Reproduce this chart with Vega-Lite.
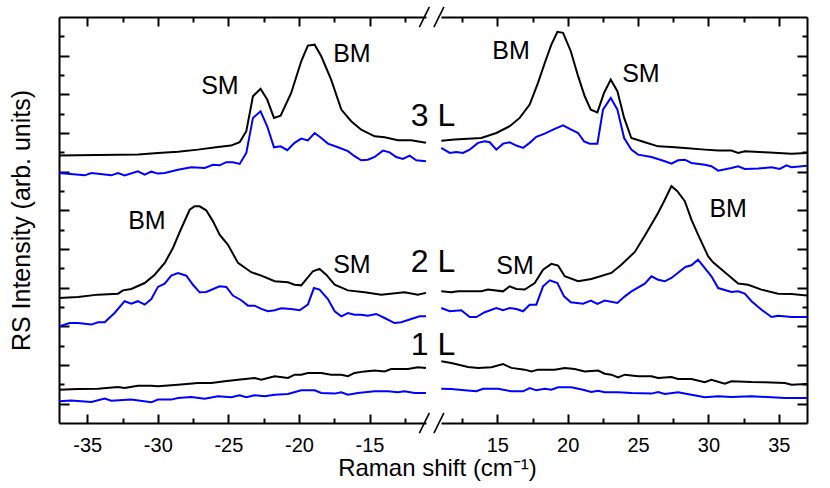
{
  "$schema": "https://vega.github.io/schema/vega-lite/v6.json",
  "background": "white",
  "padding": {"left": 9, "top": 3, "right": 5, "bottom": 5},
  "bounds": "flush",
  "spacing": 15,
  "config": {
    "view": {"stroke": null},
    "font": "Liberation Sans",
    "axis": {
      "grid": false,
      "domainColor": "#000000",
      "domainWidth": 2,
      "tickColor": "#000000",
      "tickWidth": 2,
      "labelFont": "Liberation Sans",
      "labelFontSize": 20,
      "labelColor": "#000000",
      "titleFont": "Liberation Sans",
      "titleFontSize": 24,
      "titleFontWeight": "normal",
      "titleColor": "#000000"
    }
  },
  "datasets": {
    "L": [
      {"s":"3k","x":-37,"y":13.83},{"s":"3k","x":-35.65,"y":13.85},{"s":"3k","x":-34.24,"y":13.86},{"s":"3k","x":-32.82,"y":13.88},{"s":"3k","x":-31.4,"y":13.89},{"s":"3k","x":-29.99,"y":13.97},{"s":"3k","x":-28.57,"y":14.03},{"s":"3k","x":-27.16,"y":14.14},{"s":"3k","x":-25.74,"y":14.28},{"s":"3k","x":-24.82,"y":14.35},{"s":"3k","x":-24.2,"y":14.52},{"s":"3k","x":-23.73,"y":15.09},{"s":"3k","x":-23.26,"y":16.9},{"s":"3k","x":-22.72,"y":17.29},{"s":"3k","x":-22.25,"y":16.73},{"s":"3k","x":-21.77,"y":15.78},{"s":"3k","x":-21.3,"y":15.9},{"s":"3k","x":-20.55,"y":17.07},{"s":"3k","x":-19.84,"y":18.71},{"s":"3k","x":-19.37,"y":19.52},{"s":"3k","x":-18.89,"y":19.57},{"s":"3k","x":-18.42,"y":18.97},{"s":"3k","x":-17.72,"y":17.76},{"s":"3k","x":-17.0,"y":16.21},{"s":"3k","x":-16.3,"y":15.61},{"s":"3k","x":-15.59,"y":15.17},{"s":"3k","x":-14.64,"y":14.83},{"s":"3k","x":-13.93,"y":14.78},{"s":"3k","x":-12.99,"y":14.62},{"s":"3k","x":-12.05,"y":14.62},{"s":"3k","x":-11.0,"y":14.49},
      {"s":"3b","x":-37,"y":12.93},{"s":"3b","x":-35.18,"y":12.81},{"s":"3b","x":-34.71,"y":12.93},{"s":"3b","x":-33.3,"y":12.81},{"s":"3b","x":-32.82,"y":12.93},{"s":"3b","x":-32.35,"y":12.81},{"s":"3b","x":-31.41,"y":13.02},{"s":"3b","x":-30.93,"y":12.85},{"s":"3b","x":-30.46,"y":13.0},{"s":"3b","x":-29.99,"y":12.9},{"s":"3b","x":-29.51,"y":12.93},{"s":"3b","x":-28.57,"y":13.1},{"s":"3b","x":-27.63,"y":13.23},{"s":"3b","x":-26.68,"y":13.19},{"s":"3b","x":-26.09,"y":13.36},{"s":"3b","x":-25.62,"y":13.33},{"s":"3b","x":-25.15,"y":13.49},{"s":"3b","x":-24.68,"y":13.49},{"s":"3b","x":-24.2,"y":13.4},{"s":"3b","x":-23.73,"y":13.97},{"s":"3b","x":-23.26,"y":15.78},{"s":"3b","x":-22.72,"y":16.12},{"s":"3b","x":-22.25,"y":15.35},{"s":"3b","x":-21.77,"y":14.26},{"s":"3b","x":-21.3,"y":14.31},{"s":"3b","x":-20.83,"y":14.11},{"s":"3b","x":-20.31,"y":14.49},{"s":"3b","x":-19.84,"y":14.71},{"s":"3b","x":-19.37,"y":14.62},{"s":"3b","x":-18.89,"y":15.0},{"s":"3b","x":-18.42,"y":14.74},{"s":"3b","x":-17.95,"y":14.45},{"s":"3b","x":-17.24,"y":14.26},{"s":"3b","x":-16.53,"y":14.06},{"s":"3b","x":-16.06,"y":13.8},{"s":"3b","x":-15.59,"y":13.59},{"s":"3b","x":-15.12,"y":13.62},{"s":"3b","x":-14.64,"y":13.76},{"s":"3b","x":-14.05,"y":14.09},{"s":"3b","x":-13.58,"y":14.0},{"s":"3b","x":-13.11,"y":13.76},{"s":"3b","x":-12.64,"y":13.66},{"s":"3b","x":-12.16,"y":13.83},{"s":"3b","x":-11.69,"y":13.59},{"s":"3b","x":-11.0,"y":13.54},
      {"s":"2k","x":-37,"y":6.47},{"s":"2k","x":-35.65,"y":6.52},{"s":"2k","x":-34.24,"y":6.64},{"s":"2k","x":-32.82,"y":6.69},{"s":"2k","x":-32.47,"y":6.86},{"s":"2k","x":-31.88,"y":6.93},{"s":"2k","x":-30.93,"y":7.24},{"s":"2k","x":-30.22,"y":7.67},{"s":"2k","x":-29.51,"y":8.28},{"s":"2k","x":-28.93,"y":9.05},{"s":"2k","x":-28.45,"y":9.88},{"s":"2k","x":-27.74,"y":11.03},{"s":"2k","x":-27.39,"y":11.21},{"s":"2k","x":-27.04,"y":11.21},{"s":"2k","x":-26.57,"y":11.0},{"s":"2k","x":-26.09,"y":10.43},{"s":"2k","x":-25.62,"y":9.74},{"s":"2k","x":-25.03,"y":9.22},{"s":"2k","x":-24.32,"y":8.28},{"s":"2k","x":-23.38,"y":7.8},{"s":"2k","x":-22.67,"y":7.62},{"s":"2k","x":-21.72,"y":7.33},{"s":"2k","x":-20.78,"y":7.28},{"s":"2k","x":-20.31,"y":7.15},{"s":"2k","x":-19.84,"y":7.12},{"s":"2k","x":-19.01,"y":7.85},{"s":"2k","x":-18.54,"y":7.97},{"s":"2k","x":-18.07,"y":7.67},{"s":"2k","x":-17.47,"y":7.15},{"s":"2k","x":-16.53,"y":6.86},{"s":"2k","x":-15.35,"y":6.76},{"s":"2k","x":-14.17,"y":6.64},{"s":"2k","x":-12.52,"y":6.76},{"s":"2k","x":-11.58,"y":6.64},{"s":"2k","x":-11.0,"y":6.73},
      {"s":"2b","x":-37,"y":5.0},{"s":"2b","x":-36.24,"y":5.17},{"s":"2b","x":-35.65,"y":5.17},{"s":"2b","x":-34.71,"y":5.09},{"s":"2b","x":-34.24,"y":5.21},{"s":"2b","x":-33.76,"y":5.21},{"s":"2b","x":-33.06,"y":5.69},{"s":"2b","x":-32.35,"y":6.3},{"s":"2b","x":-31.88,"y":6.17},{"s":"2b","x":-31.41,"y":6.3},{"s":"2b","x":-30.93,"y":6.12},{"s":"2b","x":-30.46,"y":6.41},{"s":"2b","x":-29.99,"y":7.04},{"s":"2b","x":-29.51,"y":7.21},{"s":"2b","x":-29.05,"y":7.62},{"s":"2b","x":-28.57,"y":7.76},{"s":"2b","x":-27.98,"y":7.62},{"s":"2b","x":-27.51,"y":7.15},{"s":"2b","x":-27.04,"y":6.76},{"s":"2b","x":-26.57,"y":6.78},{"s":"2b","x":-25.62,"y":7.07},{"s":"2b","x":-25.15,"y":7.04},{"s":"2b","x":-24.68,"y":6.59},{"s":"2b","x":-24.09,"y":6.35},{"s":"2b","x":-23.61,"y":6.07},{"s":"2b","x":-23.14,"y":6.07},{"s":"2b","x":-22.67,"y":5.9},{"s":"2b","x":-22.2,"y":5.78},{"s":"2b","x":-21.72,"y":5.83},{"s":"2b","x":-21.26,"y":5.93},{"s":"2b","x":-20.55,"y":5.9},{"s":"2b","x":-19.95,"y":5.83},{"s":"2b","x":-19.37,"y":6.12},{"s":"2b","x":-18.94,"y":6.98},{"s":"2b","x":-18.54,"y":6.9},{"s":"2b","x":-17.95,"y":6.41},{"s":"2b","x":-17.47,"y":5.78},{"s":"2b","x":-17.0,"y":5.52},{"s":"2b","x":-16.53,"y":5.69},{"s":"2b","x":-16.06,"y":5.6},{"s":"2b","x":-15.59,"y":5.6},{"s":"2b","x":-15.12,"y":5.55},{"s":"2b","x":-14.53,"y":5.64},{"s":"2b","x":-13.93,"y":5.43},{"s":"2b","x":-13.23,"y":5.17},{"s":"2b","x":-12.76,"y":5.21},{"s":"2b","x":-12.05,"y":5.38},{"s":"2b","x":-11.45,"y":5.52},{"s":"2b","x":-11.0,"y":5.52},
      {"s":"1k","x":-37,"y":1.72},{"s":"1k","x":-35.65,"y":1.76},{"s":"1k","x":-34.24,"y":1.77},{"s":"1k","x":-32.82,"y":1.86},{"s":"1k","x":-32.35,"y":1.81},{"s":"1k","x":-31.41,"y":1.93},{"s":"1k","x":-30.46,"y":1.93},{"s":"1k","x":-29.99,"y":1.9},{"s":"1k","x":-28.57,"y":1.98},{"s":"1k","x":-27.16,"y":2.07},{"s":"1k","x":-26.21,"y":2.07},{"s":"1k","x":-25.26,"y":2.16},{"s":"1k","x":-24.32,"y":2.24},{"s":"1k","x":-23.14,"y":2.33},{"s":"1k","x":-22.67,"y":2.24},{"s":"1k","x":-21.72,"y":2.42},{"s":"1k","x":-20.78,"y":2.33},{"s":"1k","x":-20.31,"y":2.5},{"s":"1k","x":-19.84,"y":2.5},{"s":"1k","x":-19.37,"y":2.59},{"s":"1k","x":-18.42,"y":2.59},{"s":"1k","x":-17.72,"y":2.5},{"s":"1k","x":-17.0,"y":2.5},{"s":"1k","x":-16.53,"y":2.42},{"s":"1k","x":-16.06,"y":2.59},{"s":"1k","x":-15.35,"y":2.67},{"s":"1k","x":-14.64,"y":2.71},{"s":"1k","x":-13.93,"y":2.67},{"s":"1k","x":-13.47,"y":2.79},{"s":"1k","x":-12.28,"y":2.79},{"s":"1k","x":-11.58,"y":2.88},{"s":"1k","x":-11.0,"y":2.85},
      {"s":"1b","x":-37,"y":1.12},{"s":"1b","x":-36.13,"y":1.17},{"s":"1b","x":-34.71,"y":1.09},{"s":"1b","x":-33.76,"y":1.26},{"s":"1b","x":-33.3,"y":1.15},{"s":"1b","x":-31.88,"y":1.21},{"s":"1b","x":-30.46,"y":1.07},{"s":"1b","x":-29.99,"y":1.21},{"s":"1b","x":-29.05,"y":1.21},{"s":"1b","x":-28.57,"y":1.29},{"s":"1b","x":-27.63,"y":1.35},{"s":"1b","x":-26.68,"y":1.26},{"s":"1b","x":-25.74,"y":1.38},{"s":"1b","x":-24.8,"y":1.33},{"s":"1b","x":-24.2,"y":1.43},{"s":"1b","x":-23.73,"y":1.33},{"s":"1b","x":-23.14,"y":1.43},{"s":"1b","x":-22.43,"y":1.38},{"s":"1b","x":-21.72,"y":1.46},{"s":"1b","x":-20.78,"y":1.5},{"s":"1b","x":-19.84,"y":1.69},{"s":"1b","x":-18.89,"y":1.69},{"s":"1b","x":-18.42,"y":1.55},{"s":"1b","x":-17.47,"y":1.52},{"s":"1b","x":-17.0,"y":1.59},{"s":"1b","x":-16.53,"y":1.46},{"s":"1b","x":-15.82,"y":1.55},{"s":"1b","x":-14.64,"y":1.64},{"s":"1b","x":-13.7,"y":1.64},{"s":"1b","x":-12.99,"y":1.59},{"s":"1b","x":-12.52,"y":1.64},{"s":"1b","x":-11.81,"y":1.55},{"s":"1b","x":-11.0,"y":1.55}
    ],
    "R": [
      {"s":"3k","x":11.02,"y":14.6},{"s":"3k","x":11.97,"y":14.66},{"s":"3k","x":13.86,"y":14.74},{"s":"3k","x":14.93,"y":15.0},{"s":"3k","x":15.88,"y":15.35},{"s":"3k","x":16.59,"y":15.78},{"s":"3k","x":17.3,"y":16.47},{"s":"3k","x":17.89,"y":17.59},{"s":"3k","x":18.37,"y":18.62},{"s":"3k","x":18.84,"y":19.57},{"s":"3k","x":19.27,"y":20.23},{"s":"3k","x":19.67,"y":20.18},{"s":"3k","x":20.22,"y":19.23},{"s":"3k","x":20.74,"y":17.94},{"s":"3k","x":21.21,"y":16.9},{"s":"3k","x":21.64,"y":16.21},{"s":"3k","x":22.11,"y":16.07},{"s":"3k","x":22.58,"y":17.07},{"s":"3k","x":23.06,"y":17.76},{"s":"3k","x":23.53,"y":17.16},{"s":"3k","x":24.01,"y":15.78},{"s":"3k","x":24.52,"y":14.74},{"s":"3k","x":25.48,"y":14.52},{"s":"3k","x":26.42,"y":14.31},{"s":"3k","x":27.37,"y":14.28},{"s":"3k","x":28.32,"y":14.23},{"s":"3k","x":29.74,"y":14.14},{"s":"3k","x":30.69,"y":14.09},{"s":"3k","x":31.63,"y":14.09},{"s":"3k","x":32.11,"y":13.97},{"s":"3k","x":32.58,"y":14.06},{"s":"3k","x":34.01,"y":14.0},{"s":"3k","x":35.9,"y":13.93},{"s":"3k","x":37.0,"y":13.97},
      {"s":"3b","x":11.02,"y":14.23},{"s":"3b","x":11.62,"y":13.97},{"s":"3b","x":12.09,"y":14.02},{"s":"3b","x":12.56,"y":13.97},{"s":"3b","x":13.04,"y":14.14},{"s":"3b","x":13.63,"y":14.49},{"s":"3b","x":14.11,"y":14.57},{"s":"3b","x":14.46,"y":14.52},{"s":"3b","x":14.93,"y":14.14},{"s":"3b","x":15.41,"y":14.45},{"s":"3b","x":15.88,"y":14.52},{"s":"3b","x":16.35,"y":14.35},{"s":"3b","x":16.83,"y":14.23},{"s":"3b","x":17.3,"y":14.49},{"s":"3b","x":17.77,"y":14.8},{"s":"3b","x":18.37,"y":14.97},{"s":"3b","x":19.08,"y":15.21},{"s":"3b","x":19.67,"y":15.4},{"s":"3b","x":20.15,"y":15.21},{"s":"3b","x":20.74,"y":15.0},{"s":"3b","x":21.16,"y":14.57},{"s":"3b","x":21.57,"y":14.45},{"s":"3b","x":22.11,"y":14.45},{"s":"3b","x":22.51,"y":16.21},{"s":"3b","x":23.06,"y":16.81},{"s":"3b","x":23.53,"y":16.21},{"s":"3b","x":24.01,"y":14.74},{"s":"3b","x":24.52,"y":14.14},{"s":"3b","x":25.0,"y":13.88},{"s":"3b","x":25.95,"y":13.76},{"s":"3b","x":26.9,"y":13.54},{"s":"3b","x":27.37,"y":13.41},{"s":"3b","x":27.84,"y":13.59},{"s":"3b","x":28.32,"y":13.62},{"s":"3b","x":28.79,"y":13.45},{"s":"3b","x":29.74,"y":13.36},{"s":"3b","x":30.21,"y":13.28},{"s":"3b","x":30.69,"y":13.05},{"s":"3b","x":31.63,"y":13.19},{"s":"3b","x":32.11,"y":13.28},{"s":"3b","x":32.58,"y":13.14},{"s":"3b","x":33.53,"y":13.16},{"s":"3b","x":34.48,"y":13.23},{"s":"3b","x":35.07,"y":13.14},{"s":"3b","x":35.54,"y":13.33},{"s":"3b","x":35.9,"y":13.23},{"s":"3b","x":37.0,"y":13.31},
      {"s":"2k","x":11.02,"y":6.81},{"s":"2k","x":11.73,"y":6.76},{"s":"2k","x":12.21,"y":6.81},{"s":"2k","x":13.86,"y":6.81},{"s":"2k","x":14.34,"y":6.9},{"s":"2k","x":15.41,"y":6.81},{"s":"2k","x":15.88,"y":7.07},{"s":"2k","x":16.35,"y":6.93},{"s":"2k","x":16.95,"y":6.9},{"s":"2k","x":17.66,"y":7.24},{"s":"2k","x":18.25,"y":7.93},{"s":"2k","x":18.84,"y":8.23},{"s":"2k","x":19.32,"y":8.14},{"s":"2k","x":19.79,"y":7.59},{"s":"2k","x":20.74,"y":7.33},{"s":"2k","x":21.68,"y":7.45},{"s":"2k","x":23.1,"y":7.76},{"s":"2k","x":23.81,"y":8.19},{"s":"2k","x":24.77,"y":8.85},{"s":"2k","x":25.59,"y":9.83},{"s":"2k","x":26.42,"y":10.86},{"s":"2k","x":26.9,"y":11.55},{"s":"2k","x":27.37,"y":12.25},{"s":"2k","x":27.79,"y":11.99},{"s":"2k","x":28.32,"y":11.47},{"s":"2k","x":28.79,"y":10.52},{"s":"2k","x":29.26,"y":9.74},{"s":"2k","x":29.98,"y":8.62},{"s":"2k","x":30.33,"y":8.31},{"s":"2k","x":31.16,"y":7.8},{"s":"2k","x":32.11,"y":7.21},{"s":"2k","x":32.82,"y":7.15},{"s":"2k","x":33.76,"y":6.9},{"s":"2k","x":34.95,"y":6.69},{"s":"2k","x":35.9,"y":6.67},{"s":"2k","x":37.0,"y":6.59},
      {"s":"2b","x":11.02,"y":5.95},{"s":"2b","x":11.62,"y":5.78},{"s":"2b","x":12.44,"y":5.83},{"s":"2b","x":13.04,"y":5.48},{"s":"2b","x":13.51,"y":5.48},{"s":"2b","x":14.11,"y":5.73},{"s":"2b","x":14.93,"y":5.95},{"s":"2b","x":15.41,"y":5.83},{"s":"2b","x":15.88,"y":5.95},{"s":"2b","x":16.35,"y":5.9},{"s":"2b","x":16.83,"y":5.78},{"s":"2b","x":17.3,"y":6.12},{"s":"2b","x":17.77,"y":6.12},{"s":"2b","x":18.25,"y":7.07},{"s":"2b","x":18.73,"y":7.38},{"s":"2b","x":19.27,"y":7.24},{"s":"2b","x":19.74,"y":6.55},{"s":"2b","x":20.22,"y":6.24},{"s":"2b","x":21.09,"y":6.17},{"s":"2b","x":21.64,"y":6.33},{"s":"2b","x":22.11,"y":6.16},{"s":"2b","x":22.63,"y":6.33},{"s":"2b","x":23.53,"y":6.21},{"s":"2b","x":24.06,"y":6.55},{"s":"2b","x":24.53,"y":6.81},{"s":"2b","x":25.48,"y":7.21},{"s":"2b","x":25.95,"y":7.59},{"s":"2b","x":26.42,"y":7.41},{"s":"2b","x":26.9,"y":7.33},{"s":"2b","x":27.37,"y":7.5},{"s":"2b","x":28.36,"y":8.07},{"s":"2b","x":28.79,"y":8.16},{"s":"2b","x":29.26,"y":8.45},{"s":"2b","x":30.21,"y":7.59},{"s":"2b","x":30.69,"y":6.98},{"s":"2b","x":31.63,"y":6.78},{"s":"2b","x":32.11,"y":6.81},{"s":"2b","x":32.58,"y":6.69},{"s":"2b","x":33.06,"y":6.3},{"s":"2b","x":33.77,"y":5.86},{"s":"2b","x":34.48,"y":5.48},{"s":"2b","x":34.95,"y":5.55},{"s":"2b","x":35.9,"y":5.48},{"s":"2b","x":37.0,"y":5.48},
      {"s":"1k","x":11.02,"y":3.19},{"s":"1k","x":11.73,"y":3.1},{"s":"1k","x":12.92,"y":2.9},{"s":"1k","x":13.63,"y":2.85},{"s":"1k","x":14.58,"y":2.88},{"s":"1k","x":15.41,"y":3.05},{"s":"1k","x":16.0,"y":2.85},{"s":"1k","x":16.95,"y":2.76},{"s":"1k","x":17.42,"y":2.67},{"s":"1k","x":17.89,"y":2.76},{"s":"1k","x":19.08,"y":2.76},{"s":"1k","x":19.79,"y":2.85},{"s":"1k","x":20.5,"y":2.79},{"s":"1k","x":21.21,"y":2.67},{"s":"1k","x":22.16,"y":2.71},{"s":"1k","x":22.63,"y":2.55},{"s":"1k","x":23.1,"y":2.5},{"s":"1k","x":23.58,"y":2.36},{"s":"1k","x":24.06,"y":2.5},{"s":"1k","x":25.0,"y":2.42},{"s":"1k","x":25.95,"y":2.42},{"s":"1k","x":26.42,"y":2.33},{"s":"1k","x":27.37,"y":2.38},{"s":"1k","x":27.84,"y":2.28},{"s":"1k","x":28.79,"y":2.28},{"s":"1k","x":29.74,"y":2.11},{"s":"1k","x":30.21,"y":2.24},{"s":"1k","x":31.16,"y":2.03},{"s":"1k","x":31.63,"y":2.16},{"s":"1k","x":33.06,"y":2.12},{"s":"1k","x":34.01,"y":2.11},{"s":"1k","x":35.43,"y":2.07},{"s":"1k","x":35.9,"y":1.98},{"s":"1k","x":37.0,"y":2.02},
      {"s":"1b","x":11.02,"y":1.77},{"s":"1b","x":11.73,"y":1.76},{"s":"1b","x":12.68,"y":1.69},{"s":"1b","x":13.51,"y":1.64},{"s":"1b","x":13.99,"y":1.77},{"s":"1b","x":15.05,"y":1.77},{"s":"1b","x":16.0,"y":1.64},{"s":"1b","x":16.83,"y":1.64},{"s":"1b","x":17.3,"y":1.81},{"s":"1b","x":17.77,"y":1.69},{"s":"1b","x":18.37,"y":1.77},{"s":"1b","x":18.84,"y":1.72},{"s":"1b","x":19.32,"y":1.85},{"s":"1b","x":20.26,"y":1.85},{"s":"1b","x":21.09,"y":1.72},{"s":"1b","x":21.68,"y":1.6},{"s":"1b","x":22.16,"y":1.67},{"s":"1b","x":22.63,"y":1.59},{"s":"1b","x":23.58,"y":1.59},{"s":"1b","x":24.53,"y":1.55},{"s":"1b","x":25.95,"y":1.52},{"s":"1b","x":26.42,"y":1.6},{"s":"1b","x":26.9,"y":1.5},{"s":"1b","x":27.84,"y":1.59},{"s":"1b","x":28.79,"y":1.46},{"s":"1b","x":29.74,"y":1.33},{"s":"1b","x":30.69,"y":1.38},{"s":"1b","x":31.63,"y":1.35},{"s":"1b","x":33.06,"y":1.38},{"s":"1b","x":34.48,"y":1.33},{"s":"1b","x":35.43,"y":1.29},{"s":"1b","x":37.0,"y":1.29}
    ],
    "LT": [
      {"t":"SM","k":"p","x":-25.6,"y":17.42},
      {"t":"BM","k":"p","x":-16.25,"y":19.08},
      {"t":"BM","k":"p","x":-30.77,"y":10.44},
      {"t":"SM","k":"p","x":-16.25,"y":8.16},
      {"t":"3 L","k":"l","x":-10.5,"y":15.87},
      {"t":"2 L","k":"l","x":-10.5,"y":8.32},
      {"t":"1 L","k":"l","x":-10.5,"y":4.03}
    ],
    "RT": [
      {"t":"BM","k":"p","x":15.97,"y":19.23},
      {"t":"SM","k":"p","x":25.2,"y":18.04},
      {"t":"SM","k":"p","x":16.26,"y":8.11},
      {"t":"BM","k":"p","x":31.4,"y":11.06}
    ],
    "BR": [
      {"g":"a","x":-11.47,"y":20.48},{"g":"a","x":-10.76,"y":21.52},
      {"g":"b","x":-10.44,"y":20.48},{"g":"b","x":-9.73,"y":21.52},
      {"g":"c","x":-11.47,"y":-0.52},{"g":"c","x":-10.76,"y":0.52},
      {"g":"d","x":-10.44,"y":-0.52},{"g":"d","x":-9.73,"y":0.52}
    ]
  },
  "hconcat": [
    {
      "width": 367,
      "height": 406,
      "layer": [
        {
          "data": {"name": "L"},
          "mark": {"type": "line", "strokeWidth": 2},
          "encoding": {
            "x": {
              "field": "x", "type": "quantitative",
              "scale": {"domain": [-37, -11], "nice": false, "zero": false},
              "axis": {
                "orient": "bottom",
                "values": [-35, -32.5, -30, -27.5, -25, -22.5, -20, -17.5, -15, -12.5],
                "tickSize": {"condition": {"test": "datum.value % 5 === 0", "value": -9}, "value": -5},
                "labelExpr": "datum.value % 5 === 0 ? toString(datum.value) : ''",
                "labelPadding": 21,
                "title": "Raman shift (cm⁻¹)",
                "titleX": 378,
                "titleY": 52,
                "titleAlign": "center",
                "titleBaseline": "alphabetic"
              }
            },
            "y": {
              "field": "y", "type": "quantitative",
              "scale": {"domain": [0, 21], "nice": false, "zero": false},
              "axis": {
                "orient": "left",
                "values": [1,2,3,4,5,6,7,8,9,10,11,12,13,14,15,16,17,18,19,20],
                "tickSize": {"condition": {"test": "datum.value % 2 === 1", "value": -10}, "value": -5},
                "labels": false,
                "title": "RS Intensity (arb. units)",
                "titleX": -30,
                "titleY": 203,
                "titleAlign": "center",
                "titleAngle": -90,
                "titleBaseline": "alphabetic",
                "titleFontSize": 25
              }
            },
            "color": {
              "field": "s", "type": "nominal",
              "scale": {"domain": ["3k","3b","2k","2b","1k","1b"], "range": ["#000000","#0000ff","#000000","#0000ff","#000000","#0000ff"]},
              "legend": null
            }
          }
        },
        {
          "data": {"name": "LT"},
          "transform": [{"filter": "datum.k === 'p'"}],
          "mark": {"type": "text", "font": "Liberation Sans", "fontSize": 25, "color": "#000000", "align": "center", "baseline": "middle"},
          "encoding": {
            "x": {
              "field": "x", "type": "quantitative",
              "scale": {"domain": [-37, -11], "nice": false, "zero": false},
              "axis": {
                "orient": "top",
                "values": [-35, -32.5, -30, -27.5, -25, -22.5, -20, -17.5, -15, -12.5],
                "tickSize": {"condition": {"test": "datum.value % 5 === 0", "value": -9}, "value": -5},
                "labels": false,
                "title": null
              }
            },
            "y": {"field": "y", "type": "quantitative", "axis": null},
            "text": {"field": "t"}
          }
        },
        {
          "data": {"name": "LT"},
          "transform": [{"filter": "datum.k === 'l'"}],
          "mark": {"type": "text", "font": "Liberation Sans", "fontSize": 32, "color": "#000000", "align": "center", "baseline": "middle"},
          "encoding": {
            "x": {"field": "x", "type": "quantitative", "axis": null},
            "y": {"field": "y", "type": "quantitative", "axis": null},
            "text": {"field": "t"}
          }
        },
        {
          "data": {"name": "BR"},
          "mark": {"type": "line", "strokeWidth": 1.6, "color": "#000000", "clip": false},
          "encoding": {
            "x": {"field": "x", "type": "quantitative", "axis": null},
            "y": {"field": "y", "type": "quantitative", "axis": null},
            "detail": {"field": "g"}
          }
        }
      ],
      "resolve": {"axis": {"x": "independent", "y": "independent"}}
    },
    {
      "width": 366,
      "height": 406,
      "layer": [
        {
          "data": {"name": "R"},
          "mark": {"type": "line", "strokeWidth": 2},
          "encoding": {
            "x": {
              "field": "x", "type": "quantitative",
              "scale": {"domain": [11, 37], "nice": false, "zero": false},
              "axis": {
                "orient": "bottom",
                "values": [12.5, 15, 17.5, 20, 22.5, 25, 27.5, 30, 32.5, 35],
                "tickSize": {"condition": {"test": "datum.value % 5 === 0", "value": -9}, "value": -5},
                "labelExpr": "datum.value % 5 === 0 ? toString(datum.value) : ''",
                "labelPadding": 21,
                "title": null
              }
            },
            "y": {
              "field": "y", "type": "quantitative",
              "scale": {"domain": [0, 21], "nice": false, "zero": false},
              "axis": {
                "orient": "right",
                "values": [1,2,3,4,5,6,7,8,9,10,11,12,13,14,15,16,17,18,19,20],
                "tickSize": {"condition": {"test": "datum.value % 2 === 1", "value": -10}, "value": -5},
                "labels": false,
                "title": null
              }
            },
            "color": {
              "field": "s", "type": "nominal",
              "scale": {"domain": ["3k","3b","2k","2b","1k","1b"], "range": ["#000000","#0000ff","#000000","#0000ff","#000000","#0000ff"]},
              "legend": null
            }
          }
        },
        {
          "data": {"name": "RT"},
          "mark": {"type": "text", "font": "Liberation Sans", "fontSize": 25, "color": "#000000", "align": "center", "baseline": "middle"},
          "encoding": {
            "x": {
              "field": "x", "type": "quantitative",
              "scale": {"domain": [11, 37], "nice": false, "zero": false},
              "axis": {
                "orient": "top",
                "values": [12.5, 15, 17.5, 20, 22.5, 25, 27.5, 30, 32.5, 35],
                "tickSize": {"condition": {"test": "datum.value % 5 === 0", "value": -9}, "value": -5},
                "labels": false,
                "title": null
              }
            },
            "y": {"field": "y", "type": "quantitative", "axis": null},
            "text": {"field": "t"}
          }
        }
      ],
      "resolve": {"axis": {"x": "independent", "y": "independent"}}
    }
  ]
}
